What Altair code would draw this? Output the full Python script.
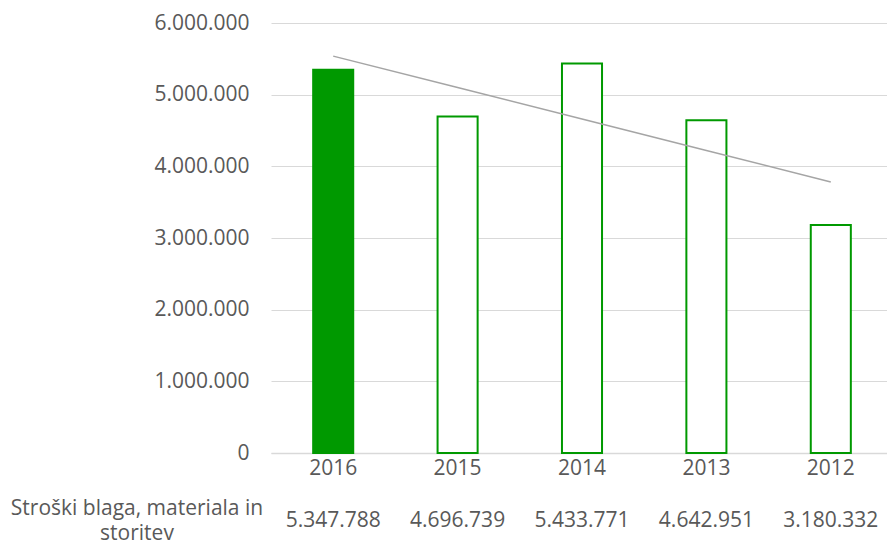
import altair as alt
import pandas as pd
import numpy as np

years = ["2016", "2015", "2014", "2013", "2012"]
values = [5347788, 4696739, 5433771, 4642951, 3180332]
series_lines = ["Stroški blaga, materiala in", "storitev"]
y_ticks = [0, 1000000, 2000000, 3000000, 4000000, 5000000, 6000000]


def fmt(v):
    return f"{v:,}".replace(",", ".")


idx = np.arange(1, len(values) + 1)
slope, intercept = np.polyfit(idx, values, 1)
df = pd.DataFrame({
    "year": years,
    "value": values,
    "label": [fmt(v) for v in values],
    "trend": slope * idx + intercept,
})

GREEN = "#009900"
TXT = "#595959"
FONT = "Open Sans"
FS = 21

x = alt.X(
    "year:N", sort=years,
    scale=alt.Scale(range=[0, 622], paddingInner=0.678, paddingOuter=0.339),
    axis=alt.Axis(title=None, labelAngle=0, domain=True, domainColor="#d9d9d9",
                  domainWidth=1.5, ticks=False, labelPadding=4, labelBaseline="top"),
)
y_axis = alt.Axis(
    values=y_ticks, title=None, domain=False, ticks=False, labelPadding=22,
    gridColor="#d9d9d9", gridWidth=1.2,
    labelExpr="replace(replace(format(datum.value, ','), ',', '.'), ',', '.')",
)
y_scale = alt.Scale(domain=[0, 6000000], nice=False)

bars = alt.Chart(df).mark_bar(stroke=GREEN, strokeWidth=2).encode(
    x=x, y=alt.Y("value:Q", scale=y_scale, axis=y_axis),
    fill=alt.condition("datum.year == '2016'", alt.value(GREEN), alt.value("white")),
)

trend = alt.Chart(df).mark_line(color="#a5a5a5", strokeWidth=1.5).encode(
    x=x, y=alt.Y("trend:Q", scale=y_scale, axis=y_axis),
)

table = alt.Chart(df).mark_text(fontSize=FS, font=FONT, color=TXT, baseline="middle").encode(
    x=x, y=alt.value(498), text="label:N",
)

name_df = pd.DataFrame({"k": [0]})
name = alt.Chart(name_df).mark_text(
    text=series_lines, fontSize=FS, font=FONT, color=TXT, baseline="middle",
    align="center", lineHeight=25,
).encode(x=alt.value(-134), y=alt.value(486))

chart = alt.layer(bars, trend, table, name).properties(
    width=616, height=430,
    padding={"left": 271, "top": 23, "right": 0, "bottom": 96},
    autosize=alt.AutoSizeParams(type="none"),
).configure_view(stroke=None).configure_axis(
    labelFont=FONT, labelFontSize=FS, labelColor=TXT
)

chart.save("out.html", embed_options={"renderer": "svg", "actions": False})
